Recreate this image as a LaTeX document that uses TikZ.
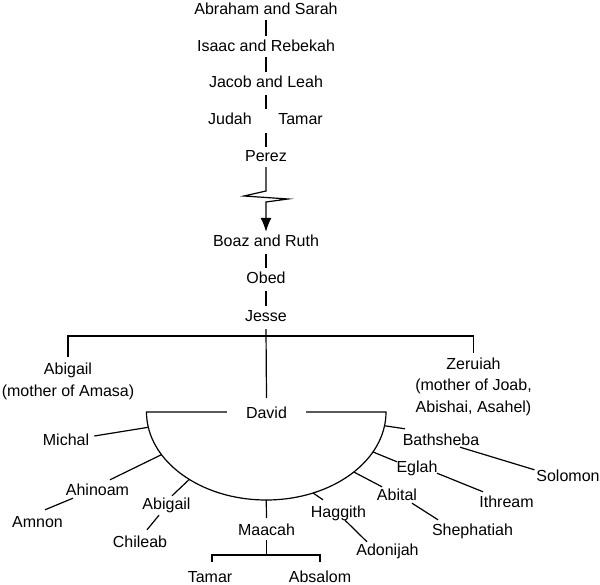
\documentclass[tikz,border=0pt]{standalone}
\usepackage{fontspec}
\setmainfont{Liberation Sans}
\usetikzlibrary{arrows.meta}
\begin{document}
\begin{tikzpicture}[x=1pt,y=-1pt,
  nm/.style={font=\fontsize{16pt}{19pt}\selectfont, inner sep=0pt, text height=12pt, text depth=0pt, anchor=base},
  ml/.style={font=\fontsize{16pt}{21.5pt}\selectfont, inner sep=0pt, align=center, anchor=north},
  ln/.style={line width=1.2pt, black},
  tip/.style={-{Latex[length=14pt,width=11pt]}}
]
\fill[white] (0,0) rectangle (600,585);
\useasboundingbox (0,0) rectangle (600,585);

% ---------- ancestry chain ----------
\node[nm] (abr) at (266,15) {Abraham and Sarah};
\node[nm] (isa) at (266,52) {Isaac and Rebekah};
\node[nm] (jac) at (266,88) {Jacob and Leah};
\node[nm] (jud) at (230,125) {Judah};
\node[nm] (tam1) at (300.5,125) {Tamar};
\node[nm] (per) at (266,162) {Perez};
\node[nm] (boa) at (266,247) {Boaz and Ruth};
\node[nm] (obe) at (266,284) {Obed};
\node[nm] (jes) at (266,322) {Jesse};

\coordinate (jtT) at (jud.north -| jac.south);
\coordinate (jtB) at (jud.south -| per.north);

\draw[ln] ([yshift=-5pt]abr.south) -- ([yshift=4pt]isa.north);
\draw[ln] ([yshift=-5pt]isa.south) -- ([yshift=4pt]jac.north);
\draw[ln] ([yshift=-7pt]jac.south) -- ([yshift=4pt]jtT);
\draw[ln] ([yshift=-8pt]jtB) -- ([yshift=3pt]per.north);
\draw[ln, tip, shorten >=3pt] ([yshift=-5pt]per.south) -- (266,191) -- (244,196)
  -- (288,199) -- (266,202) -- (boa.north);
\draw[ln] ([yshift=-7pt]boa.south) -- ([yshift=4pt]obe.north);
\draw[ln] ([yshift=-7pt]obe.south) -- ([yshift=4pt]jes.north);

% ---------- Jesse's children ----------
\node[ml] (abg1) at (68,363) {Abigail\\(mother of Amasa)};
\node[ml] (zer) at (473.5,357.5) {Zeruiah\\(mother of Joab,\\Abishai, Asahel)};
\node[nm] (dav) at (266.5,418) {David};

\coordinate (hL) at (68,336);
\coordinate (hR) at (473.5,336);
\draw[ln] ([yshift=6pt]abg1.north) -- (hL) -- (hR) -- ([yshift=4pt]zer.north);
\draw[ln] ([yshift=-7pt]jes.south) -- ([yshift=8pt]dav.north);

% ---------- David's wives arc ----------
\coordinate (aL) at (146.5,412);
\coordinate (cD) at (266.25,412);
\draw[ln] ([xshift=-19pt]dav.west) -- (aL)
  arc[start angle=180, end angle=360, x radius=119.75pt, y radius=88pt]
  -- ([xshift=19pt]dav.east);

\path (cD) ++(190:119.75pt and 88pt) coordinate (jMic);
\path (cD) ++(209:119.75pt and 88pt) coordinate (jAhi);
\path (cD) ++(230:119.75pt and 88pt) coordinate (jAbg);
\path (cD) ++(270:119.75pt and 88pt) coordinate (jMaa);
\path (cD) ++(293:119.75pt and 88pt) coordinate (jHag);
\path (cD) ++(317:119.75pt and 88pt) coordinate (jAbi);
\path (cD) ++(333:119.75pt and 88pt) coordinate (jEgl);
\path (cD) ++(351:119.75pt and 88pt) coordinate (jBat);

% wives and children
\node[nm] (mic) at (66,445) {Michal};
\node[nm] (ahi) at (97.5,495) {Ahinoam};
\node[nm] (amn) at (37.5,527) {Amnon};
\node[nm] (abg2) at (166.5,509) {Abigail};
\node[nm] (chi) at (140,547) {Chileab};
\node[nm] (maa) at (266.5,535) {Maacah};
\node[nm] (tam2) at (210,582) {Tamar};
\node[nm] (abs) at (320,582) {Absalom};
\node[nm] (hag) at (338.5,517) {Haggith};
\node[nm] (ado) at (387.5,555) {Adonijah};
\node[nm] (abi) at (397,500) {Abital};
\node[nm] (she) at (472.5,535) {Shephatiah};
\node[nm] (egl) at (417,472) {Eglah};
\node[nm] (ith) at (506.5,507) {Ithream};
\node[nm] (bat) at (441,445) {Bathsheba};
\node[nm] (sol) at (568,481) {Solomon};

\draw[ln] (jMic) -- ([shift={(5,-3)}]mic.east);
\draw[ln] (jAhi) -- ([shift={(12.5,-3)}]ahi.north);
\draw[ln] ([shift={(-24.5,3)}]ahi.south) -- ([shift={(7.5,-5)}]amn.north);
\draw[ln] (jAbg) -- ([shift={(5.5,-1)}]abg2.north);
\draw[ln] ([shift={(-7.5,6)}]abg2.south) -- ([shift={(7,-5)}]chi.north);

\coordinate (mL) at (212,555);
\coordinate (mR) at (320,555);
\coordinate (tL) at (mL |- tam2.north);
\coordinate (tR) at (mR |- abs.north);
\draw[ln] (jMaa) -- ([yshift=5pt]maa.north);
\draw[ln] ([yshift=-5pt]maa.south) -- (maa.south |- mL);
\draw[ln] ([yshift=8pt]tL) -- (mL) -- (mR) -- ([yshift=8pt]tR);

\draw[ln] (jHag) -- ([shift={(-15.5,-5)}]hag.north);
\draw[ln] ([shift={(6.5,3)}]hag.south) -- ([shift={(-20.5,-1)}]ado.north);
\draw[ln] (jAbi) -- ([shift={(-15,-1)}]abi.north);
\draw[ln] ([shift={(15,3)}]abi.south) -- ([shift={(-34.5,-3)}]she.north);
\draw[ln] (jEgl) -- ([shift={(-20,2)}]egl.north);
\draw[ln] ([shift={(20,1)}]egl.south) -- ([shift={(-23.5,-3)}]ith.north);
\draw[ln] (jBat) -- ([shift={(-36,-4)}]bat.north);
\draw[ln] ([shift={(19,2)}]bat.south) -- ([shift={(-33.5,1)}]sol.north);
\end{tikzpicture}
\end{document}
